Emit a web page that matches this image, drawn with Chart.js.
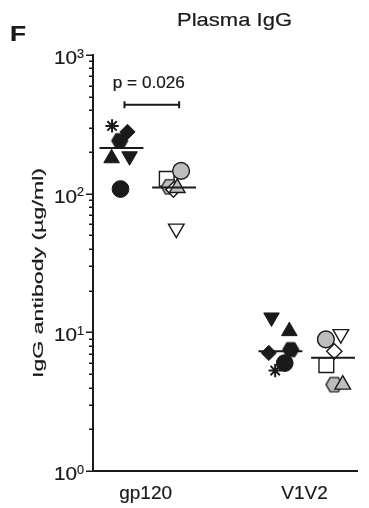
<!DOCTYPE html>
<html>
<head>
<meta charset="utf-8">
<script src="https://cdn.jsdelivr.net/npm/chart.js@4.4.1/dist/chart.umd.min.js"></script>
<style>
  html, body { margin: 0; padding: 0; background: #fff; }
  #wrap { position: relative; width: 369px; height: 508px; }
</style>
</head>
<body>
<div id="wrap"><canvas id="chart"></canvas></div>
<script>
// ── Data ─────────────────────────────────────────────────────────────────────
const categories = ['gp120', 'V1V2'];
const yMajorTicks = [1, 10, 100, 1000];
const yTickExponents = ['0', '1', '2', '3'];

// group 1: filled black symbols
const group1Symbols = ['hexagon', 'rectRot', 'star', 'triangle', 'triangleDown', 'circle'];
const group1Fills = ['black', 'black', 'black', 'black', 'black', 'black'];
const group1Gp120 = [241, 279, 308, 180, 186, 108];
const group1V1V2 = [7.5, 7.1, 5.3, 10.2, 12.8, 6.0];
const group1Gp120Jitter = [-0.163, -0.114, -0.211, -0.214, -0.101, -0.158];
const group1V1V2Jitter = [-0.087, -0.225, -0.185, -0.096, -0.208, -0.125];

// group 2: gray / open symbols
const group2Symbols = ['rect', 'circle', 'hexagon', 'rectRot', 'triangle', 'triangleDown'];
const group2Fills = ['white', 'gray', 'gray', 'white', 'gray', 'white'];
const group2Gp120 = [128, 146, 112, 107, 110, 56];
const group2V1V2 = [5.8, 8.9, 4.2, 7.3, 4.2, 9.7];
const group2Gp120Jitter = [0.133, 0.223, 0.151, 0.175, 0.199, 0.193];
const group2V1V2Jitter = [0.137, 0.134, 0.187, 0.187, 0.240, 0.228];

const pLabel = 'p = 0.026';
const pBracketX = [-0.133, 0.211];
const pBracketY = 437;

// ── Styles ───────────────────────────────────────────────────────────────────
const INK = '#1a1a1a';
const FILL = { black: '#1a1a1a', gray: '#bdbdbd', white: '#ffffff' };
const RADIUS = { circle: 8.4, triangle: 9, triangleDown: 9, rect: 10.4, rectRot: 7.6, star: 6.6, hexagon: 8 };
const FONT = '"Liberation Sans", Arial, Helvetica, sans-serif';
const GROUP_CENTERS = [-0.152, 0.179];
const MEDIAN_HALF = 0.138;

function makeHexagon(fill, lw) {
  const R = 8.2, size = 22;
  const c = document.createElement('canvas');
  c.width = size; c.height = size;
  const g = c.getContext('2d');
  g.beginPath();
  for (let k = 0; k < 6; k++) {
    const a = k * Math.PI / 3;
    const px = size / 2 + R * Math.cos(a), py = size / 2 + R * Math.sin(a);
    if (k) g.lineTo(px, py); else g.moveTo(px, py);
  }
  g.closePath();
  g.fillStyle = fill; g.fill();
  g.lineWidth = lw; g.strokeStyle = INK; g.stroke();
  return c;
}

const hexCanvas = {
  black: makeHexagon(FILL.black, 1),
  gray: makeHexagon(FILL.gray, 1.4),
  white: makeHexagon(FILL.white, 1.4)
};

function pointProps(symbol, fill) {
  let style = symbol, rotation = 0;
  if (symbol === 'hexagon') style = hexCanvas[fill];
  if (symbol === 'triangleDown') { style = 'triangle'; rotation = 180; }
  let bw = fill === 'black' ? 1 : 1.4;
  if (symbol === 'star') bw = 2;
  return { style, rotation, radius: RADIUS[symbol], bg: FILL[fill], bw };
}

function median(arr) {
  const s = [...arr].sort((a, b) => a - b);
  const mid = Math.floor(s.length / 2);
  return s.length % 2 ? s[mid] : (s[mid - 1] + s[mid]) / 2;
}

function groupDataset(label, symbols, fills, gp120, v1v2, jitGp, jitV) {
  const data = [], styles = [], radii = [], rots = [], bgs = [], bws = [];
  [[gp120, jitGp, 0], [v1v2, jitV, 1]].forEach(([vals, jit, cat]) => {
    vals.forEach((v, i) => {
      const p = pointProps(symbols[i], fills[i]);
      data.push({ x: cat + jit[i], y: v });
      styles.push(p.style);
      radii.push(p.radius);
      rots.push(p.rotation);
      bgs.push(p.bg);
      bws.push(p.bw);
    });
  });
  return {
    label, data,
    pointStyle: styles,
    pointRadius: radii,
    pointRotation: rots,
    pointBackgroundColor: bgs,
    pointBorderColor: INK,
    pointBorderWidth: bws
  };
}

function medianLine(values, cat, group) {
  const m = median(values);
  const cx = cat + GROUP_CENTERS[group];
  return {
    data: [{ x: cx - MEDIAN_HALF, y: m }, { x: cx + MEDIAN_HALF, y: m }],
    showLine: true,
    borderColor: INK,
    borderWidth: 2,
    pointRadius: 0
  };
}

// ── Text helper: fits text horizontally to a given width ─────────────────────
function fillTextFit(ctx, text, x, y, width, align) {
  const w = ctx.measureText(text).width;
  ctx.save();
  ctx.translate(x, y);
  ctx.scale(width / w, 1);
  ctx.textAlign = align;
  ctx.fillText(text, 0, 0);
  ctx.lineWidth = 0.2;
  ctx.strokeText(text, 0, 0);
  ctx.restore();
}

const decorations = {
  id: 'decorations',
  afterDraw(chart) {
    const { ctx, chartArea, scales } = chart;
    const x = scales.x, y = scales.y;
    const left = chartArea.left;
    ctx.save();
    ctx.fillStyle = INK;
    ctx.strokeStyle = INK;

    // y tick marks (major + minor)
    ctx.lineWidth = 1.5;
    for (let e = 0; e <= 3; e++) {
      for (let m = 1; m <= 9; m++) {
        const v = m * Math.pow(10, e);
        if (v > 1000) break;
        const py = Math.round(y.getPixelForValue(v)) + 0.25;
        const len = m === 1 ? 7 : 4;
        ctx.beginPath();
        ctx.moveTo(left - len, py);
        ctx.lineTo(left, py);
        ctx.stroke();
      }
    }

    // y tick labels 10^n
    ctx.textBaseline = 'alphabetic';
    yMajorTicks.forEach((v, i) => {
      const py = y.getPixelForValue(v);
      ctx.font = '18.5px ' + FONT;
      fillTextFit(ctx, '10', left - 16, py + 9, 23, 'right');
      ctx.font = '12px ' + FONT;
      fillTextFit(ctx, yTickExponents[i], left - 16, py + 2.7, 7, 'left');
    });

    // x category labels
    ctx.font = '19px ' + FONT;
    categories.forEach((c, i) => {
      const w = ctx.measureText(c).width;
      fillTextFit(ctx, c, x.getPixelForValue(i), 499, w, 'center');
    });

    // panel letter and title
    ctx.font = 'bold 22px ' + FONT;
    fillTextFit(ctx, 'F', 10, 41, 16, 'left');
    ctx.font = '18.5px ' + FONT;
    fillTextFit(ctx, 'Plasma IgG', 234.5, 26, 115, 'center');

    // p value
    ctx.font = '16px ' + FONT;
    const pcx = (x.getPixelForValue(pBracketX[0]) + x.getPixelForValue(pBracketX[1])) / 2;
    fillTextFit(ctx, pLabel, pcx - 3, y.getPixelForValue(pBracketY) - 17, 72, 'center');

    // y axis title (rotated)
    ctx.save();
    ctx.translate(42.7, (chartArea.top + chartArea.bottom) / 2 + 10);
    ctx.rotate(-Math.PI / 2);
    ctx.font = '15px ' + FONT;
    fillTextFit(ctx, 'IgG antibody (µg/ml)', 0, 0, 210, 'center');
    ctx.restore();

    ctx.restore();
  }
};

// ── Chart ────────────────────────────────────────────────────────────────────
const datasets = [
  {
    data: pBracketX.map(v => ({ x: v, y: pBracketY })),
    showLine: true,
    borderColor: INK,
    borderWidth: 2,
    pointStyle: 'line',
    pointRotation: 90,
    pointRadius: 3.5,
    pointBorderWidth: 2,
    pointBorderColor: INK
  },
  medianLine(group1Gp120, 0, 0),
  medianLine(group2Gp120, 0, 1),
  medianLine(group1V1V2, 1, 0),
  medianLine(group2V1V2, 1, 1),
  groupDataset('group 2', group2Symbols, group2Fills, group2Gp120, group2V1V2, group2Gp120Jitter, group2V1V2Jitter),
  groupDataset('group 1', group1Symbols, group1Fills, group1Gp120, group1V1V2, group1Gp120Jitter, group1V1V2Jitter)
];

new Chart(document.getElementById('chart').getContext('2d'), {
  type: 'scatter',
  data: { datasets },
  options: {
    responsive: true,
    maintainAspectRatio: false,
    animation: false,
    events: [],
    layout: { padding: { left: 93, top: 55, right: 0, bottom: 37 } },
    plugins: {
      legend: { display: false },
      tooltip: { enabled: false }
    },
    scales: {
      x: {
        type: 'linear',
        min: -0.331,
        max: 1.331,
        grid: { display: false, drawTicks: false },
        ticks: { display: false },
        border: { display: true, color: INK, width: 2 }
      },
      y: {
        type: 'logarithmic',
        min: 1,
        max: 1000,
        grid: { display: false, drawTicks: false },
        ticks: { display: false },
        border: { display: true, color: INK, width: 2 }
      }
    }
  },
  plugins: [decorations]
});
</script>
</body>
</html>
